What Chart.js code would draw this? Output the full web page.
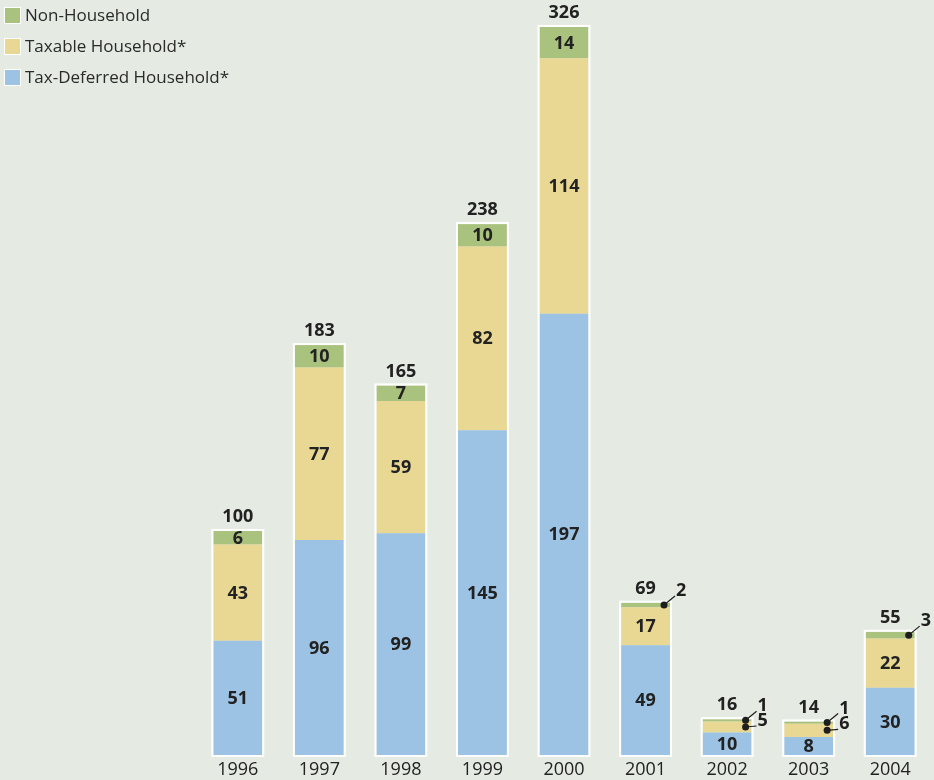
<!DOCTYPE html>
<html>
<head>
<meta charset="utf-8">
<script src="https://cdn.jsdelivr.net/npm/chart.js@4.4.1/dist/chart.umd.min.js"></script>
<style>
  html, body { margin: 0; padding: 0; background: #e5ebe3; }
  canvas { display: block; }
</style>
</head>
<body>
<canvas id="flowsChart" width="934" height="780"></canvas>
<script>
const years = ["1996", "1997", "1998", "1999", "2000", "2001", "2002", "2003", "2004"];
const taxDeferred = [51, 96, 99, 145, 197, 49, 10, 8, 30];
const taxable = [43, 77, 59, 82, 114, 17, 5, 6, 22];
const nonHousehold = [6, 10, 7, 10, 14, 2, 1, 1, 3];
const totals = [100, 183, 165, 238, 326, 69, 16, 14, 55];

// segments too thin for an inside label get a pointer instead: [yearIndex, datasetIndex]
const callouts = [[5, 2], [6, 2], [6, 1], [7, 2], [7, 1], [8, 2]];

const seriesNames = ["Tax-Deferred Household*", "Taxable Household*", "Non-Household"];
const seriesColors = ["#9dc3e4", "#e8d893", "#a9c27d"];
const FONT = '"Open Sans", "DejaVu Sans", sans-serif';

const isCallout = (i, d) => callouts.some(c => c[0] === i && c[1] === d);

const labelsPlugin = {
  id: "stackLabels",
  afterDatasetsDraw(chart) {
    const ctx = chart.ctx;
    const metas = [0, 1, 2].map(d => chart.getDatasetMeta(d));
    const y = chart.scales.y;
    ctx.save();

    // white frame around each stack
    years.forEach((yr, i) => {
      const bottomBar = metas[0].data[i];
      const topBar = metas[2].data[i];
      const w = bottomBar.width;
      ctx.strokeStyle = "#ffffff";
      ctx.lineWidth = 2;
      ctx.strokeRect(bottomBar.x - w / 2 - 1, topBar.y - 1, w + 2, bottomBar.base - topBar.y + 2);
    });

    ctx.fillStyle = "#222";
    ctx.textAlign = "center";
    ctx.textBaseline = "middle";
    const sets = [taxDeferred, taxable, nonHousehold];
    years.forEach((yr, i) => {
      ctx.font = "bold 18px " + FONT;
      sets.forEach((vals, d) => {
        if (isCallout(i, d)) return;
        const bar = metas[d].data[i];
        ctx.fillText(String(vals[i]), bar.x, (bar.y + bar.base) / 2 + 1);
      });
      const top = metas[2].data[i];
      ctx.fillText(String(totals[i]), top.x, top.y - 14);

      ctx.font = "18px " + FONT;
      ctx.fillText(yr, top.x, y.getPixelForValue(0) + 15);
    });

    // pointer labels
    ctx.font = "bold 18px " + FONT;
    callouts.forEach(([i, d]) => {
      const bar = metas[d].data[i];
      const dx = bar.x + bar.width / 2 - 6;
      const dy = (bar.y + bar.base) / 2;
      const lift = d === 2 ? -14 : -6;
      ctx.fillStyle = "#1e1e1e";
      ctx.beginPath();
      ctx.arc(dx, dy, 3.5, 0, Math.PI * 2);
      ctx.fill();
      ctx.strokeStyle = "#1e1e1e";
      ctx.lineWidth = 1.2;
      ctx.beginPath();
      ctx.moveTo(dx, dy);
      ctx.lineTo(dx + 11, dy + lift + 5);
      ctx.stroke();
      ctx.textAlign = "left";
      ctx.fillText(String(sets[d][i]), dx + 12, dy + lift);
    });

    // legend, top left
    ctx.font = "17px " + FONT;
    ctx.textAlign = "left";
    [2, 1, 0].forEach((d, row) => {
      const cy = 16 + row * 31;
      ctx.fillStyle = seriesColors[d];
      ctx.fillRect(5, cy - 8, 15, 15);
      ctx.strokeStyle = "#ffffff";
      ctx.lineWidth = 1;
      ctx.strokeRect(4.5, cy - 8.5, 16, 16);
      ctx.fillStyle = "#2a2a2a";
      ctx.fillText(seriesNames[d], 25, cy);
    });
    ctx.restore();
  }
};

const chartCtx = document.getElementById("flowsChart");
const flowsChart = new Chart(chartCtx, {
  type: "bar",
  data: {
    labels: years,
    datasets: [taxDeferred, taxable, nonHousehold].map((vals, d) => ({
      label: seriesNames[d],
      data: vals,
      backgroundColor: seriesColors[d],
      borderWidth: 0,
      barPercentage: 0.6,
      categoryPercentage: 1.0
    }))
  },
  options: {
    responsive: false,
    devicePixelRatio: 1,
    animation: false,
    layout: { padding: { left: 197, right: 3, top: 27, bottom: 25 } },
    scales: {
      x: { stacked: true, display: false },
      y: { stacked: true, display: false, min: 0, max: 325 }
    },
    plugins: {
      legend: { display: false },
      tooltip: { enabled: false }
    }
  },
  plugins: [labelsPlugin]
});
</script>
</body>
</html>
